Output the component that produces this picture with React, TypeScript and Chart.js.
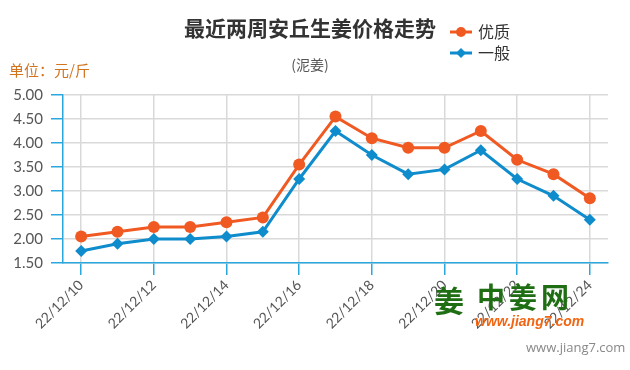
import React, { useEffect, useRef } from "react";
import { Chart, registerables } from "chart.js";

Chart.register(...registerables);

const categories = [
  "22/12/10", "22/12/11", "22/12/12", "22/12/13", "22/12/14",
  "22/12/15", "22/12/16", "22/12/17", "22/12/18", "22/12/19",
  "22/12/20", "22/12/21", "22/12/22", "22/12/23", "22/12/24",
];
const premium = [2.05, 2.15, 2.25, 2.25, 2.35, 2.45, 3.55, 4.55, 4.1, 3.9, 3.9, 4.25, 3.65, 3.35, 2.85];
const ordinary = [1.75, 1.9, 2.0, 2.0, 2.05, 2.15, 3.25, 4.25, 3.75, 3.35, 3.45, 3.85, 3.25, 2.9, 2.4];
const seriesNames = ["优质", "一般"];
const titleText = "最近两周安丘生姜价格走势";
const subtitleText = "(泥姜)";
const unitText = "单位：元/斤";

const ORANGE = "#f05a22";
const BLUE = "#0f8ccc";
const AXIS = "#2aa8de";
const GRID = "#d9d9d9";
const CJK = '"Noto Sans CJK SC", "Noto Sans", sans-serif';

function drawMarker(ctx: CanvasRenderingContext2D, style: string, x: number, y: number, r: number, color: string) {
  ctx.save();
  ctx.fillStyle = color;
  ctx.beginPath();
  if (style === "circle") {
    ctx.arc(x, y, r, 0, Math.PI * 2);
  } else {
    ctx.moveTo(x, y - r);
    ctx.lineTo(x + r, y);
    ctx.lineTo(x, y + r);
    ctx.lineTo(x - r, y);
    ctx.closePath();
  }
  ctx.fill();
  ctx.restore();
}

const decorPlugin = {
  id: "decor",
  afterDraw(chart: any) {
    const ctx: CanvasRenderingContext2D = chart.ctx;
    ctx.save();
    // title
    ctx.textAlign = "center";
    ctx.textBaseline = "middle";
    ctx.fillStyle = "#333333";
    ctx.font = `bold 21px ${CJK}`;
    ctx.fillText(titleText, 310, 28);
    ctx.fillStyle = "#555555";
    ctx.font = `14px ${CJK}`;
    ctx.fillText(subtitleText, 310, 65);
    // unit
    ctx.textAlign = "left";
    ctx.fillStyle = "#d2731e";
    ctx.font = `15px ${CJK}`;
    ctx.fillText(unitText, 9, 70);
    // legend
    const ys = [32, 53];
    chart.data.datasets.forEach((ds: any, i: number) => {
      const y = ys[i];
      ctx.strokeStyle = ds.borderColor;
      ctx.lineWidth = 3;
      ctx.beginPath();
      ctx.moveTo(450, y);
      ctx.lineTo(472, y);
      ctx.stroke();
      drawMarker(ctx, ds.pointStyle, 461, y, 5, ds.borderColor);
      ctx.fillStyle = "#333333";
      ctx.font = `16px ${CJK}`;
      ctx.textAlign = "left";
      ctx.fillText(ds.label, 478, y);
    });
    // watermark
    ctx.fillStyle = "#1f6e14";
    ctx.font = `bold 30px ${CJK}`;
    ctx.textAlign = "center";
    ctx.fillText("姜", 449, 301);
    ctx.font = `bold 28px ${CJK}`;
    ctx.textAlign = "left";
    (ctx as any).letterSpacing = "4px";
    ctx.fillText("中姜网", 477, 297);
    (ctx as any).letterSpacing = "0px";
    ctx.fillStyle = "#f26512";
    ctx.font = `italic bold 14px "Liberation Sans", sans-serif`;
    ctx.fillText("www.jiang7.com", 475, 322);
    ctx.fillStyle = "#888888";
    ctx.font = `13px "Open Sans", sans-serif`;
    ctx.fillText("www.jiang7.com", 526, 348);
    ctx.restore();
  },
};

export default function App() {
  const ref = useRef<HTMLCanvasElement | null>(null);
  useEffect(() => {
    document.body.style.margin = "0";
    if (!ref.current) return;
    const chart = new Chart(ref.current, {
      type: "line",
      data: {
        labels: categories,
        datasets: [
          {
            label: seriesNames[0],
            data: premium,
            borderColor: ORANGE,
            backgroundColor: ORANGE,
            borderWidth: 3,
            pointStyle: "circle",
            pointRadius: 6,
            pointHoverRadius: 6,
            pointBorderWidth: 0,
            tension: 0,
          },
          {
            label: seriesNames[1],
            data: ordinary,
            borderColor: BLUE,
            backgroundColor: BLUE,
            borderWidth: 3,
            pointStyle: "rectRot",
            pointRadius: 6,
            pointHoverRadius: 6,
            pointBorderWidth: 0,
            tension: 0,
          },
        ],
      },
      options: {
        animation: false,
        responsive: false,
        layout: { padding: { top: 95, right: 22, left: 0, bottom: 0 } },
        plugins: { legend: { display: false }, title: { display: false }, tooltip: { enabled: false } },
        scales: {
          x: {
            offset: true,
            grid: { color: GRID, tickColor: AXIS, tickLength: 12, offset: false, lineWidth: 1.5 },
            border: { color: AXIS, width: 1.5 },
            ticks: {
              autoSkip: false,
              minRotation: 45,
              maxRotation: 45,
              color: "#555555",
              padding: 2,
              font: { family: "Lato", size: 14 },
              callback: function (this: any, value: any, index: number) {
                return index % 2 === 0 ? this.getLabelForValue(value) : null;
              },
            },
            afterFit: (scale: any) => { scale.height = 107; },
          },
          y: {
            min: 1.5,
            max: 5,
            grid: { color: GRID, tickColor: AXIS, tickLength: 12, lineWidth: 1.5 },
            border: { color: AXIS, width: 1.5 },
            ticks: {
              stepSize: 0.5,
              color: "#555555",
              padding: 8,
              font: { family: "Lato", size: 15 },
              callback: (v: any) => Number(v).toFixed(2),
            },
            afterFit: (scale: any) => { scale.width = 63; },
          },
        },
      },
      plugins: [decorPlugin],
    });
    return () => chart.destroy();
  }, []);
  return (
    <div style={{ position: "fixed", left: 0, top: 0, width: 630, height: 370 }}>
      <canvas ref={ref} width={630} height={370} style={{ width: 630, height: 370 }} />
    </div>
  );
}
